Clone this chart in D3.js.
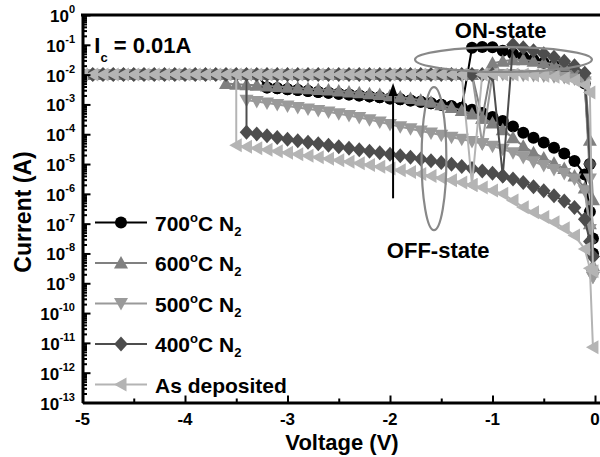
<!DOCTYPE html>
<html>
<head>
<meta charset="utf-8">
<script src="https://cdn.jsdelivr.net/npm/d3@7"></script>
<style>
  body { margin: 0; background: #fff; }
  text { font-family: "Liberation Sans", Arial, sans-serif; font-weight: bold; }
</style>
</head>
<body>
<div class="container"></div>
<script>
// I-V sweeps, current stored as log10(I / A)
var n = null;

// voltage grid of the sweep (V)
var voltage = [
  -5.0,-4.9,-4.8,-4.7,-4.6,-4.5,-4.4,-4.3,-4.2,-4.1,
  -4.0,-3.9,-3.8,-3.7,-3.6,-3.5,-3.4,-3.3,-3.2,-3.1,
  -3.0,-2.9,-2.8,-2.7,-2.6,-2.5,-2.4,-2.3,-2.2,-2.1,
  -2.0,-1.9,-1.8,-1.7,-1.6,-1.5,-1.4,-1.3,-1.2,-1.1,
  -1.0,-0.9,-0.8,-0.7,-0.6,-0.5,-0.4,-0.3,-0.2,-0.1,
  -0.05,-0.02
];

// OFF branch, sweep 0 -> set voltage
var off700 = [
  n,n,n,n,n,n,n,n,n,n,
  n,n,n,n,n,n,n,n,-2.43,-2.46,
  -2.49,-2.52,-2.55,-2.58,-2.61,-2.64,-2.67,-2.70,-2.73,-2.76,
  -2.80,-2.83,-2.87,-2.91,-2.96,-3.01,-3.06,-3.11,-3.18,-3.29,
  -3.42,-3.56,-3.74,-3.95,-4.12,-4.28,-4.45,-4.65,-4.90,-5.35,
  -6.6,-8.0
];
var off600 = [
  n,n,n,n,n,n,n,n,n,n,
  n,n,n,n,-2.30,-2.32,-2.34,-2.36,-2.38,-2.40,
  -2.42,-2.45,-2.47,-2.50,-2.52,-2.55,-2.58,-2.61,-2.64,-2.67,
  -2.71,-2.75,-2.80,-2.86,-2.93,-3.01,-3.10,-3.20,-3.32,-3.46,
  -3.62,-3.85,-4.12,-4.40,-4.62,-4.80,-4.97,-5.15,-5.40,-5.80,
  -7.0,-8.4
];
var off500 = [
  n,n,n,n,n,n,n,n,n,n,
  n,n,n,n,n,n,-2.86,-2.90,-2.95,-3.00,
  -3.05,-3.10,-3.15,-3.20,-3.25,-3.31,-3.37,-3.44,-3.51,-3.59,
  -3.67,-3.75,-3.82,-3.89,-3.96,-4.03,-4.10,-4.17,-4.24,-4.32,
  -4.40,-4.50,-4.62,-4.78,-4.92,-5.05,-5.18,-5.32,-5.50,-5.90,
  -7.2,-8.8
];
var off400 = [
  n,n,n,n,n,n,n,n,n,n,
  n,n,n,n,n,n,-3.93,-3.99,-4.05,-4.11,
  -4.17,-4.22,-4.27,-4.32,-4.37,-4.42,-4.47,-4.52,-4.57,-4.62,
  -4.67,-4.72,-4.77,-4.83,-4.89,-4.95,-5.01,-5.08,-5.15,-5.23,
  -5.31,-5.40,-5.50,-5.62,-5.76,-5.90,-6.06,-6.24,-6.46,-6.85,
  -7.6,-8.1
];
var offAsDep = [
  n,n,n,n,n,n,n,n,n,n,
  n,n,n,n,n,-4.37,-4.42,-4.47,-4.52,-4.57,
  -4.62,-4.67,-4.72,-4.77,-4.82,-4.87,-4.92,-4.97,-5.03,-5.09,
  -5.15,-5.21,-5.27,-5.33,-5.40,-5.47,-5.54,-5.62,-5.70,-5.79,
  -5.89,-6.00,-6.22,-6.45,-6.62,-6.78,-6.95,-7.15,-7.40,-7.85,
  -8.5,-11.15
];

// return branch, sweep -5 -> 0 (compliance 0.01 A = -2)
var on700 = [
  -2,-2,-2,-2,-2,-2,-2,-2,-2,-2,
  -2,-2,-2,-2,-2,-2,-2,-2,-2.43,-2.46,
  -2.49,-2.52,-2.55,-2.58,-2.61,-2.64,-2.67,-2.70,-2.73,-2.76,
  -2.80,-2.83,-2.87,-2.91,-2.96,-3.01,-3.06,-3.11,-1.10,-1.07,
  -1.08,-1.20,-1.30,-1.40,-1.50,-1.60,-1.70,-1.80,-1.95,-2.30,
  -5.0,-7.5
];
var on600 = [
  -2,-2,-2,-2,-2,-2,-2,-2,-2,-2,
  -2,-2,-2,-2,-2,-2,-2,-2,-2,-2,
  -2,-2,-2,-2,-2,-2,-2,-2,-2,-2,
  -2,-2,-2,-2,-2,-2,-2,-2,-2,-3.46,
  -1.62,-1.55,-1.50,-1.50,-1.55,-1.60,-1.65,-1.72,-1.82,-1.98,
  -4.2,-6.2
];
var on500 = [
  -2,-2,-2,-2,-2,-2,-2,-2,-2,-2,
  -2,-2,-2,-2,-2,-2,-2,-2,-2,-2,
  -2,-2,-2,-2,-2,-2,-2,-2,-2,-2,
  -2,-2,-2,-2,-2,-2,-2,-2,-2,-4.32,
  -2.0,-2.0,-2.0,-2.02,-2.03,-2.05,-2.07,-2.10,-2.15,-2.25,
  -5.5,-8.8
];
var on400 = [
  -2,-2,-2,-2,-2,-2,-2,-2,-2,-2,
  -2,-2,-2,-2,-2,-2,-2,-2,-2,-2,
  -2,-2,-2,-2,-2,-2,-2,-2,-2,-2,
  -2,-2,-2,-2,-2,-2,-2,-2,-2,-2,
  -2,-5.40,-1.00,-1.10,-1.20,-1.30,-1.42,-1.55,-1.70,-1.95,
  -5.0,-8.1
];
var onAsDep = [
  -2,-2,-2,-2,-2,-2,-2,-2,-2,-2,
  -2,-2,-2,-2,-2,-2,-2,-2,-2,-2,
  -2,-2,-2,-2,-2,-2,-2,-2,-2,-2,
  -2,-2,-2,-2,-2,-2,-2,-2,-5.70,-2.0,
  -2.0,-2.0,-2.0,-2.0,-2.02,-2.04,-2.07,-2.12,-2.20,-2.35,
  -2.6,-8.6
];

var seriesNames = ["700", "600", "500", "400", "As deposited"];
var seriesColors = ["#000000", "#808080", "#9a9a9a", "#4d4d4d", "#b4b4b4"];
var seriesSymbols = ["circle", "up", "down", "diamond", "left"];
var offData = [off700, off600, off500, off400, offAsDep];
var onData = [on700, on600, on500, on400, onAsDep];

var xTicks = [-5, -4, -3, -2, -1, 0];
var xMinorTicks = [-4.5, -3.5, -2.5, -1.5, -0.5];
var yTicks = [0, -1, -2, -3, -4, -5, -6, -7, -8, -9, -10, -11, -12, -13];

var width = 600;
var height = 457;
var plotLeft = 82.5, plotTop = 15, plotBottom = 402.5;

var x = d3.scaleLinear().domain([-5, 0.5]).range([plotLeft, plotLeft + 5.5 * 102.5]);
var y = d3.scaleLinear().domain([-13, 0]).range([plotBottom, plotTop]);

var svg = d3.select(".container")
    .append("svg")
    .attr("width", width)
    .attr("height", height);

svg.append("clipPath").attr("id", "plot")
    .append("rect")
    .attr("x", plotLeft).attr("y", plotTop)
    .attr("width", width - plotLeft).attr("height", plotBottom - plotTop);

var symbolPath = {
    up: "M0,-7L7,5.5L-7,5.5Z",
    down: "M0,7L7,-5.5L-7,-5.5Z",
    left: "M-7,0L5.5,-7L5.5,7Z",
    diamond: "M0,-7.5L6.8,0L0,7.5L-6.8,0Z"
};

function drawSymbol(g, type, color)
{
    if (type == "circle")
    {
        g.append("circle").attr("r", 6).attr("fill", color);
    }
    else
    {
        g.append("path").attr("d", symbolPath[type]).attr("fill", color);
    }
}

var line = d3.line()
    .x(function(d) { return x(d[0]); })
    .y(function(d) { return y(d[1]); });

var plot = svg.append("g").attr("clip-path", "url(#plot)");

seriesNames.forEach(function(name, s)
{
    var off = offData[s], on = onData[s];
    var iS = off.findIndex(function(v) { return v != null; });
    var pts = [];
    // forward: OFF from 0 to set, then compliance back to -5
    for (var i = off.length - 1; i >= iS; i--) pts.push([voltage[i], off[i]]);
    for (var i = iS; i >= 0; i--) pts.push([voltage[i], on[i]]);
    // return sweep -5 -> 0
    for (var i = 1; i < on.length; i++) pts.push([voltage[i], on[i]]);

    var g = plot.append("g");
    g.append("path")
        .attr("d", line(pts))
        .attr("fill", "none")
        .attr("stroke", seriesColors[s])
        .attr("stroke-width", 2);

    var marks = [];
    for (var i = iS; i < off.length; i++) marks.push([voltage[i], off[i]]);
    for (var i = 0; i < on.length; i++) marks.push([voltage[i], on[i]]);

    g.selectAll("g.m")
        .data(marks)
        .enter()
        .append("g")
        .attr("class", "m")
        .attr("transform", function(d) { return "translate(" + x(d[0]) + "," + y(d[1]) + ")"; })
        .each(function() { drawSymbol(d3.select(this), seriesSymbols[s], seriesColors[s]); });
});

// annotations (data coordinates)
svg.append("ellipse")
    .attr("cx", x(-0.893)).attr("cy", y(-1.495))
    .attr("rx", x(-0.03) - x(-0.893)).attr("ry", y(-1.91) - y(-1.495))
    .attr("fill", "none").attr("stroke", "#888").attr("stroke-width", 2.2);

svg.append("ellipse")
    .attr("cx", x(-1.571)).attr("cy", y(-4.82))
    .attr("rx", x(-1.45) - x(-1.571)).attr("ry", y(-7.22) - y(-4.82))
    .attr("fill", "none").attr("stroke", "#888").attr("stroke-width", 2.2);

svg.append("line")
    .attr("x1", x(-1.97)).attr("x2", x(-1.97))
    .attr("y1", y(-6.15)).attr("y2", y(-2.6))
    .attr("stroke", "#000").attr("stroke-width", 2);
svg.append("path")
    .attr("d", "M" + x(-1.97) + "," + y(-2.28) + "l-4.5,13h9Z")
    .attr("fill", "#000");

svg.append("text")
    .attr("x", x(-0.92)).attr("y", y(-0.77))
    .attr("text-anchor", "middle")
    .style("font-size", "22px")
    .text("ON-state");

svg.append("text")
    .attr("x", x(-1.53)).attr("y", y(-8.16))
    .attr("text-anchor", "middle")
    .style("font-size", "22px")
    .text("OFF-state");

var ic = svg.append("text")
    .attr("x", x(-4.885)).attr("y", y(-1.28))
    .style("font-size", "22px");
ic.append("tspan").text("I");
ic.append("tspan").attr("dy", 9).style("font-size", "13px").text("c");
ic.append("tspan").attr("dy", -9).text(" = 0.01A");

// axes
svg.append("g")
    .attr("transform", "translate(0," + plotBottom + ")")
    .call(d3.axisBottom(x).tickValues(xTicks).tickSizeInner(-7).tickSizeOuter(0).tickFormat(""));
svg.append("g")
    .attr("transform", "translate(0," + plotBottom + ")")
    .call(d3.axisBottom(x).tickValues(xMinorTicks).tickSizeInner(-4).tickSizeOuter(0).tickFormat(""))
    .select(".domain").remove();

var yMinor = [];
yTicks.forEach(function(e)
{
    if (e > -13) [2, 3, 4, 5, 6, 7, 8, 9].forEach(function(k) { yMinor.push(e - 1 + Math.log10(k)); });
});

svg.append("g")
    .attr("transform", "translate(" + plotLeft + ",0)")
    .call(d3.axisLeft(y).tickValues(yTicks).tickSizeInner(-8).tickSizeOuter(0).tickFormat(""));
svg.append("g")
    .attr("transform", "translate(" + plotLeft + ",0)")
    .call(d3.axisLeft(y).tickValues(yMinor).tickSizeInner(-4.5).tickSizeOuter(0).tickFormat(""))
    .select(".domain").remove();

svg.selectAll(".domain").attr("stroke-width", 3);
svg.selectAll(".tick line").attr("stroke-width", 2);

svg.append("line")
    .attr("x1", plotLeft - 1.5).attr("x2", width)
    .attr("y1", plotTop).attr("y2", plotTop)
    .attr("stroke", "#000").attr("stroke-width", 3);

svg.selectAll("text.xt")
    .data(xTicks)
    .enter()
    .append("text")
    .attr("class", "xt")
    .attr("x", function(d) { return x(d); })
    .attr("y", plotBottom + 22)
    .attr("text-anchor", "middle")
    .style("font-size", "17px")
    .text(function(d) { return d == 0 ? "0" : "-" + Math.abs(d); });

var yt = svg.selectAll("text.yt")
    .data(yTicks)
    .enter()
    .append("text")
    .attr("class", "yt")
    .attr("x", 75)
    .attr("y", function(d) { return y(d) + 7; })
    .attr("text-anchor", "end")
    .style("font-size", "17px");
yt.append("tspan").text("10");
yt.append("tspan")
    .attr("dy", -9)
    .style("font-size", "11px")
    .text(function(d) { return d == 0 ? "0" : "-" + Math.abs(d); });

svg.append("text")
    .attr("x", 342).attr("y", 450)
    .attr("text-anchor", "middle")
    .style("font-size", "22px")
    .text("Voltage (V)");

svg.append("text")
    .attr("transform", "translate(31,212) rotate(-90)")
    .attr("text-anchor", "middle")
    .style("font-size", "23px")
    .text("Current (A)");

// legend
var legend = svg.append("g").attr("transform", "translate(95,222.5)");
seriesNames.forEach(function(name, s)
{
    var row = legend.append("g").attr("transform", "translate(0," + (s * 40.5) + ")");
    row.append("line")
        .attr("x1", 0).attr("x2", 52)
        .attr("stroke", seriesColors[s]).attr("stroke-width", 2);
    drawSymbol(row.append("g").attr("transform", "translate(26,0)"), seriesSymbols[s], seriesColors[s]);
    var t = row.append("text")
        .attr("x", 60).attr("y", 8)
        .style("font-size", "21px");
    if (s < 4)
    {
        t.append("tspan").text(name);
        t.append("tspan").attr("dy", -9).style("font-size", "13px").text("o");
        t.append("tspan").attr("dy", 9).text("C N");
        t.append("tspan").attr("dy", 5).style("font-size", "13px").text("2");
    }
    else
    {
        t.text(name);
    }
});
</script>
</body>
</html>
